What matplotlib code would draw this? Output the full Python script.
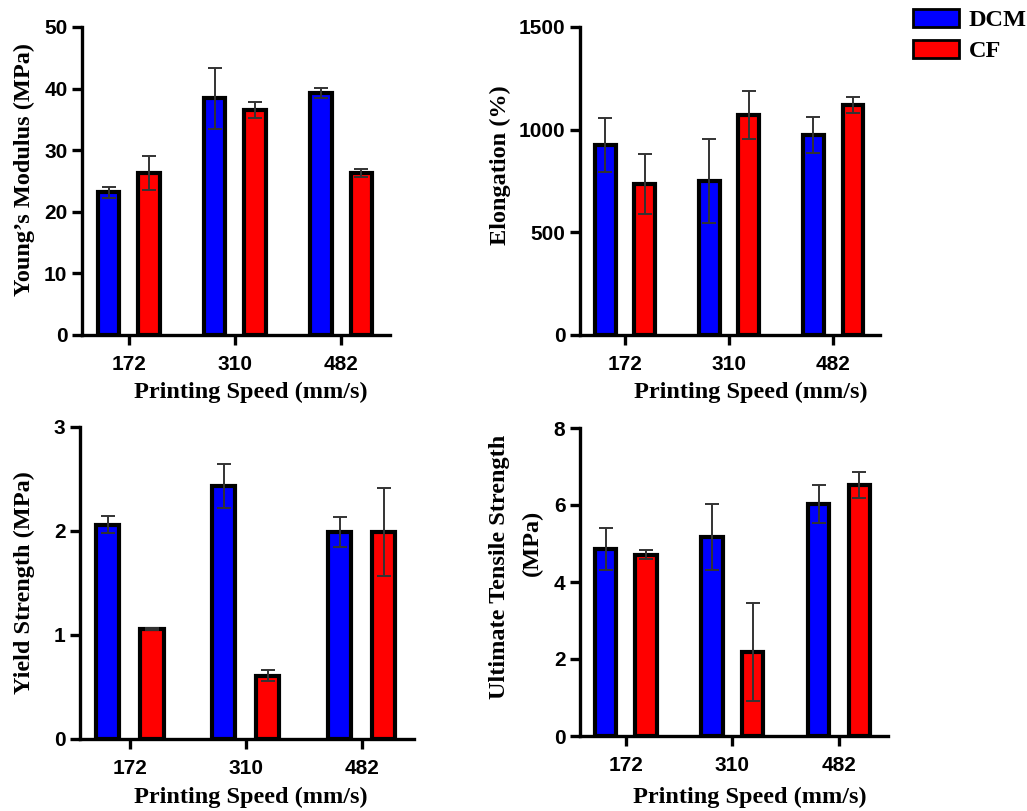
import matplotlib
matplotlib.use("Agg")
import matplotlib.pyplot as plt
import numpy as np
from matplotlib.patches import Patch

speeds = ['172', '310', '482']
series = ['DCM', 'CF']

ym_dcm = [23.2, 38.4, 39.3]
ym_dcm_err = [0.9, 5.0, 0.8]
ym_cf = [26.3, 36.5, 26.3]
ym_cf_err = [2.8, 1.3, 0.6]

el_dcm = [925, 750, 974]
el_dcm_err = [130, 205, 88]
el_cf = [735, 1071, 1120]
el_cf_err = [145, 115, 40]

ys_dcm = [2.06, 2.43, 1.99]
ys_dcm_err = [0.08, 0.21, 0.14]
ys_cf = [1.055, 0.61, 1.99]
ys_cf_err = [0.01, 0.05, 0.42]

uts_dcm = [4.86, 5.17, 6.03]
uts_dcm_err = [0.55, 0.86, 0.49]
uts_cf = [4.71, 2.18, 6.52]
uts_cf_err = [0.12, 1.28, 0.34]

W, H = 1027, 811
fig = plt.figure(figsize=(W / 100, H / 100), dpi=100)

def box(l, r, t, b):
    return [l / W, 1 - b / H, (r - l) / W, (b - t) / H]

serif = 'Liberation Serif'
sans = 'Liberation Sans'
colors = ['#0000FF', '#FF0000']

panels = [
    dict(rect=box(82, 390, 27, 335), xl=-0.44, xr=2.46, data=(ym_dcm, ym_dcm_err, ym_cf, ym_cf_err),
         yt=[0, 10, 20, 30, 40, 50]),
    dict(rect=box(580, 880, 27, 335), xl=-0.433, xr=2.45, data=(el_dcm, el_dcm_err, el_cf, el_cf_err),
         yt=[0, 500, 1000, 1500]),
    dict(rect=box(80, 414, 427, 739), xl=-0.43, xr=2.45, data=(ys_dcm, ys_dcm_err, ys_cf, ys_cf_err),
         yt=[0, 1, 2, 3]),
    dict(rect=box(580, 888, 428, 736), xl=-0.43, xr=2.46, data=(uts_dcm, uts_dcm_err, uts_cf, uts_cf_err),
         yt=[0, 2, 4, 6, 8]),
]

x = np.arange(len(speeds))
off = 0.19
bw = 0.2
axes = []
for p in panels:
    ax = fig.add_axes(p['rect'])
    axes.append(ax)
    d1, e1, d2, e2 = p['data']
    for i, (vals, errs) in enumerate([(d1, e1), (d2, e2)]):
        xs = x + (-off if i == 0 else off)
        ax.bar(xs, vals, width=bw, color=colors[i], edgecolor='black', linewidth=3.0, zorder=2)
        ax.errorbar(xs, vals, yerr=errs, fmt='none', ecolor='#333333', elinewidth=1.4,
                    capsize=5, capthick=1.4, zorder=3)
    ax.set_xlim(p['xl'], p['xr'])
    ax.set_ylim(0, p['yt'][-1])
    ax.set_yticks(p['yt'])
    ax.set_xticks(x)
    ax.set_xticklabels(speeds)
    for s in ['top', 'right']:
        ax.spines[s].set_visible(False)
    for s in ['left', 'bottom']:
        ax.spines[s].set_linewidth(2.4)
    ax.tick_params(axis='both', direction='out', length=7.5, width=2.4, labelsize=15, pad=3)
    ax.tick_params(axis='x', pad=7)
    for lab in ax.get_xticklabels() + ax.get_yticklabels():
        lab.set_fontfamily(sans)
        lab.set_fontweight('bold')

def ftxt(xp, yp, s, rot=0, **kw):
    fig.text(xp / W, 1 - yp / H, s, rotation=rot, ha='center', va='center',
             fontfamily=serif, fontweight='bold', fontsize=17.5, **kw)

# x labels
ftxt(251, 392, 'Printing Speed (mm/s)')
ftxt(751, 392, 'Printing Speed (mm/s)')
ftxt(251, 797, 'Printing Speed (mm/s)')
ftxt(750, 797, 'Printing Speed (mm/s)')
# y labels
ftxt(24, 170, 'Young\u2019s Modulus (MPa)', rot=90)
ftxt(500, 165, 'Elongation (%)', rot=90)
ftxt(24, 583, 'Yield Strength (MPa)', rot=90)
ftxt(499, 567, 'Ultimate Tensile Strength', rot=90)
ftxt(532, 543, '(MPa)', rot=90)

handles = [Patch(facecolor=colors[0], edgecolor='black', linewidth=2),
           Patch(facecolor=colors[1], edgecolor='black', linewidth=2)]
fig.legend(handles, series, loc='upper left', bbox_to_anchor=(908 / W, 1 - 4 / H),
           frameon=False, prop=dict(family=serif, weight='bold', size=17.5),
           handlelength=1.9, handleheight=0.75, handletextpad=0.4, labelspacing=0.35,
           borderaxespad=0, borderpad=0.2)

fig.savefig('out.png', dpi=100)
